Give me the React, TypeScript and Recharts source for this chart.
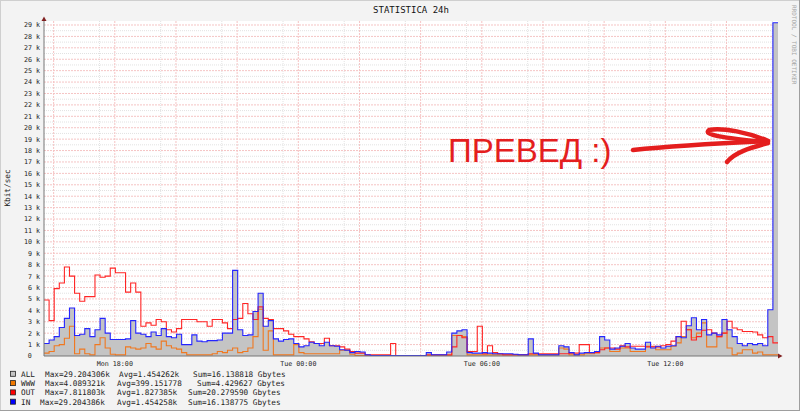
import React from "react";
import { ComposedChart, Area, Line, XAxis, YAxis, CartesianGrid } from "recharts";

// 10-minute steps, 24 h window starting Mon 15:41
const STEP_HOURS = 1 / 6;

const IN_VALUES = [
  1.1, 1.4, 1.7, 2.5, 3.3, 4.2, 1.8, 1.9, 2.4, 1.7,
  2.3, 3.3, 2.0, 1.45, 1.45, 1.45, 1.5, 3.1, 2.0, 1.9,
  1.7, 2.1, 1.8, 2.4, 1.7, 1.6, 1.9, 1.0, 1.0, 1.85,
  1.3, 1.25, 1.35, 1.35, 1.4, 2.0, 2.0, 7.5, 2.3, 1.8,
  1.85, 3.9, 5.5, 2.6, 3.1, 1.5, 1.3, 1.45, 1.5, 1.1,
  0.8, 0.9, 1.2, 1.1, 0.9, 1.2, 0.9, 0.85, 0.55, 0.5,
  0.3, 0.4, 0.35, 0.1, 0.05, 0.05, 0.05, 0.05, 0.05, 0.05,
  0.05, 0.05, 0.05, 0.05, 0.05, 0.3, 0.1, 0.1, 0.1, 0.35,
  2.0, 2.2, 2.3, 0.3, 0.25, 0.25, 0.3, 0.25, 0.2, 0.2,
  0.2, 0.2, 0.15, 0.1, 0.1, 1.5, 0.25, 0.1, 0.1, 0.1,
  0.1, 0.9, 0.8, 0.3, 0.1, 0.25, 0.3, 0.3, 0.4, 1.7,
  1.4, 0.6, 0.7, 0.85, 1.1, 0.7, 0.6, 0.6, 1.2, 0.7,
  0.85, 0.7, 0.85, 0.9, 1.7, 1.6, 2.65, 3.35, 2.3, 3.2,
  1.85, 2.0, 1.85, 3.2, 2.3, 1.7, 1.1, 0.9, 1.1, 1.0,
  1.1, 0.9, 4.05, 29.2,
];

const OUT_VALUES = [
  4.9, 3.1, 5.9, 6.4, 7.8, 7.0, 5.5, 4.8, 5.2, 5.2,
  7.1, 6.9, 7.0, 7.7, 7.3, 7.3, 5.6, 6.4, 5.6, 2.6,
  2.9, 2.7, 3.2, 3.0, 2.3, 2.1, 2.4, 3.2, 3.2, 3.2,
  3.0, 3.0, 2.6, 3.2, 3.2, 2.9, 2.4, 3.2, 3.3, 4.6,
  3.7, 3.2, 4.3, 3.3, 3.2, 2.4, 2.4, 2.2, 1.9, 1.7,
  1.7, 1.5, 1.25, 1.1, 1.1, 1.55, 0.9, 0.9, 0.8, 0.6,
  0.4, 0.25, 0.25, 0.1, 0.1, 0.1, 0.1, 0.1, 1.1, 0.0,
  0.0, 0.0, 0.0, 0.0, 0.0, 0.1, 0.1, 0.1, 0.1, 0.1,
  0.8, 1.8, 1.6, 0.4, 0.4, 2.6, 0.2, 0.9, 0.3, 0.2,
  0.1, 0.1, 0.1, 0.1, 0.1, 0.2, 0.2, 0.2, 0.2, 0.2,
  0.2, 0.2, 0.2, 0.25, 0.25, 1.0, 1.0, 0.3, 0.3, 0.55,
  0.7, 0.7, 0.6, 0.9, 0.8, 0.85, 0.85, 0.85, 0.8, 0.8,
  0.8, 0.9, 1.0, 1.3, 1.7, 3.05, 2.3, 1.4, 1.7, 2.25,
  2.3, 2.0, 1.7, 2.0, 3.05, 2.45, 2.3, 2.15, 2.15, 2.1,
  1.85, 1.6, 1.7, 1.15,
];

const WWW_VALUES = [
  0.25, 0.4, 0.9, 1.0, 1.55, 2.6, 0.2, 0.6, 0.2, 0.1,
  1.0, 1.6, 0.7, 0.15, 0.1, 0.1, 0.8, 0.7, 0.6, 0.7,
  1.1, 0.8, 0.6, 1.3, 0.9, 0.7, 0.6, 0.3, 0.1, 0.1,
  0.1, 0.1, 0.1, 0.2, 0.4, 0.3, 0.5, 0.7, 0.3, 0.4,
  0.7, 1.7, 4.09, 0.5, 2.2, 0.1, 0.1, 0.1, 0.1, 1.0,
  0.3, 0.2, 0.2, 0.2, 0.2, 0.2, 0.2, 0.2, 0.5, 0.5,
  0.15, 0.05, 0.05, 0.05, 0.05, 0.05, 0.05, 0.05, 0.05, 0.05,
  0.05, 0.05, 0.05, 0.05, 0.05, 0.05, 0.05, 0.05, 0.05, 0.05,
  1.8, 1.8, 1.7, 0.1, 0.1, 0.1, 0.1, 0.1, 0.1, 0.1,
  0.1, 0.1, 0.1, 0.1, 0.1, 0.1, 0.1, 0.1, 0.1, 0.1,
  0.1, 0.7, 0.6, 0.1, 0.1, 0.1, 0.2, 0.2, 0.3, 0.7,
  0.7, 0.4, 0.4, 0.7, 0.7, 0.4, 0.4, 0.4, 0.85, 0.85,
  0.55, 0.55, 0.55, 0.85, 1.15, 1.7, 2.3, 1.6, 2.0, 2.9,
  0.8, 0.8, 1.7, 2.0, 0.7, 0.1, 0.25, 0.55, 0.55, 0.25,
  0.35, 0.1, 0.1, 0.1,
];

// ALL coincides with IN in the picture
const ALL_VALUES = IN_VALUES;

const X_TICKS = [2.315, 8.315, 14.315, 20.315];
const X_TICK_LABELS = ["Mon 18:00", "Tue 00:00", "Tue 06:00", "Tue 12:00"];
const Y_TICKS = [0, 1, 2, 3, 4, 5, 6, 7, 8, 9, 10, 11, 12, 13, 14, 15, 16, 17, 18, 19, 20, 21, 22, 23, 24, 25, 26, 27, 28, 29];
const Y_MAX = 29.35;
const FIRST_GRID_HOUR = 0.315; // 16:00

const TITLE = "STATISTICA 24h";
const Y_LABEL = "Kbit/sec";
const WATERMARK = "RRDTOOL / TOBI OETIKER";
const NOTE = "ПРЕВЕД :)";

const LEGEND_NAMES = ["ALL", "WWW", "OUT", "IN"];
const LEGEND_MAX = ["Max=29.204306k", "Max=4.089321k", "Max=7.811803k", "Max=29.204386k"];
const LEGEND_AVG = ["Avg=1.454262k", "Avg=399.151778", "Avg=1.827385k", "Avg=1.454258k"];
const LEGEND_SUM = ["Sum=16.138818 Gbytes", "Sum=4.429627 Gbytes", "Sum=20.279590 Gbytes", "Sum=16.138775 Gbytes"];
const LEGEND_COLORS = ["#c4c4c4", "#f07800", "#ff0000", "#0000ff"];

// layout of legend columns (pixels)
const LEG_MAX_X = [45, 45, 45, 40];
const LEG_AVG_X = [119, 117, 117, 117];
const LEG_SUM_X = [193, 197, 188, 188];

const MONO = "'DejaVu Sans Mono', monospace";

const data = IN_VALUES.map((v, i) => ({
  t: i * STEP_HOURS,
  all: ALL_VALUES[i],
  www: WWW_VALUES[i],
  out: OUT_VALUES[i],
  inb: v,
}));
data.push({ ...data[data.length - 1], t: 24 });

const yMinor: number[] = [];
const yMajor: number[] = [];
for (let v = 0.5; v < Y_MAX; v += 0.5) {
  if (Number.isInteger(v)) yMajor.push(v);
  else yMinor.push(v);
}
const xMinor: number[] = [];
const xMajor: number[] = [];
for (let k = 0; FIRST_GRID_HOUR + k * 0.5 < 24; k++) {
  const t = FIRST_GRID_HOUR + k * 0.5;
  if (k % 4 === 0) xMajor.push(t);
  else xMinor.push(t);
}

const YTick = (props: any) => {
  const { x, y, payload } = props;
  const v = payload.value;
  const common = { fontSize: 6.7, fontFamily: MONO, fill: "#222", textAnchor: "end" as const };
  if (v === 0) {
    return <text x={x - 8.1} y={y + 2.4} {...common}>0</text>;
  }
  return <text x={x} y={y + 2.4} {...common}>{`${v} k`}</text>;
};

const XTick = (props: any) => {
  const { x, y, payload } = props;
  const idx = X_TICKS.indexOf(payload.value);
  return (
    <text x={x} y={y + 5.5} textAnchor="middle" fontSize={6.7} fontFamily={MONO} fill="#222">
      {X_TICK_LABELS[idx]}
    </text>
  );
};

export default function App() {
  return (
    <div style={{ position: "absolute", left: 0, top: 0, width: 800, height: 411, background: "#f3f3f3", overflow: "hidden" }}>
      <div style={{ position: "absolute", left: 0, top: 0 }}>
        <ComposedChart width={800} height={411} data={data} margin={{ top: 21, right: 22, bottom: 35, left: 4 }}>
          <CartesianGrid
            fill="#ffffff"
            horizontalValues={yMinor}
            verticalValues={xMinor}
            stroke="#e2e2e2"
            strokeDasharray="1 1"
          />
          <CartesianGrid
            horizontalValues={yMajor}
            verticalValues={xMajor}
            stroke="#f5c4c4"
            strokeDasharray="2 1"
          />
          <XAxis
            dataKey="t"
            type="number"
            domain={[0, 24]}
            ticks={X_TICKS}
            height={20}
            tickSize={2}
            tickMargin={2}
            tickLine={false}
            axisLine={{ stroke: "#777" }}
            tick={<XTick />}
            allowDataOverflow
          />
          <YAxis
            type="number"
            domain={[0, Y_MAX]}
            ticks={Y_TICKS}
            width={40}
            tickSize={2}
            tickMargin={2}
            tickLine={false}
            axisLine={{ stroke: "#777" }}
            tick={<YTick />}
            interval={0}
            allowDataOverflow
          />
          <Area dataKey="all" type="stepAfter" fill="#c4c4c4" fillOpacity={1} stroke="none" isAnimationActive={false} />
          <Line dataKey="www" type="stepAfter" stroke="#f07820" strokeWidth={1.1} dot={false} isAnimationActive={false} />
          <Line dataKey="out" type="stepAfter" stroke="#ff2525" strokeWidth={1.1} dot={false} isAnimationActive={false} />
          <Line dataKey="inb" type="stepAfter" stroke="#2525ff" strokeWidth={1.1} dot={false} isAnimationActive={false} />
        </ComposedChart>
      </div>
      <svg width={800} height={411} style={{ position: "absolute", left: 0, top: 0, pointerEvents: "none" }}>
        {/* frame shading */}
        <line x1={0.5} y1={0} x2={0.5} y2={411} stroke="#cfcfcf" />
        <line x1={0} y1={0.5} x2={800} y2={0.5} stroke="#cfcfcf" />
        <line x1={799.5} y1={0} x2={799.5} y2={411} stroke="#9e9e9e" />
        <line x1={0} y1={410.5} x2={800} y2={410.5} stroke="#9e9e9e" />
        {/* axis arrows */}
        <polygon points="41.5,21 46.5,21 44,16.5" fill="#802020" />
        <polygon points="778,353.5 778,358.5 782.5,356" fill="#802020" />
        <text x={411} y={13} textAnchor="middle" fontSize={9} fontFamily={MONO} fill="#111">{TITLE}</text>
        <text x={10} y={188} textAnchor="middle" fontSize={7.7} fontFamily={MONO} fill="#222" transform="rotate(-90 10 188)">{Y_LABEL}</text>
        <text x={791.5} y={5} textAnchor="start" fontSize={6} fontFamily={MONO} fill="#a4a4a4" transform="rotate(90 791.5 5)">{WATERMARK}</text>
        {LEGEND_NAMES.map((n, i) => {
          const base = 376.8 + i * 9.3;
          return (
            <g key={n} fontSize={7.7} fontFamily={MONO} fill="#222">
              <rect x={10.5} y={base - 5.5} width={5} height={5} fill={LEGEND_COLORS[i]} stroke="#222" strokeWidth={0.8} />
              <text x={21} y={base}>{n}</text>
              <text x={LEG_MAX_X[i]} y={base}>{LEGEND_MAX[i]}</text>
              <text x={LEG_AVG_X[i]} y={base}>{LEGEND_AVG[i]}</text>
              <text x={LEG_SUM_X[i]} y={base}>{LEGEND_SUM[i]}</text>
            </g>
          );
        })}
        {/* hand-drawn annotation */}
        <text x={448} y={161.5} fontSize={33} fontFamily="'Liberation Sans', Arial, sans-serif" fill="#e41e1e">{NOTE}</text>
        <g stroke="#e41e1e" strokeWidth={4.5} fill="none" strokeLinecap="round" strokeLinejoin="round">
          <path d="M633,150 C660,147 700,144 768,141" />
          <path d="M768,141 C750,133 722,127 709,130 C702,135 725,138 765,142" />
          <path d="M727,162 C735,152 750,148 768,143" />
        </g>
      </svg>
    </div>
  );
}
